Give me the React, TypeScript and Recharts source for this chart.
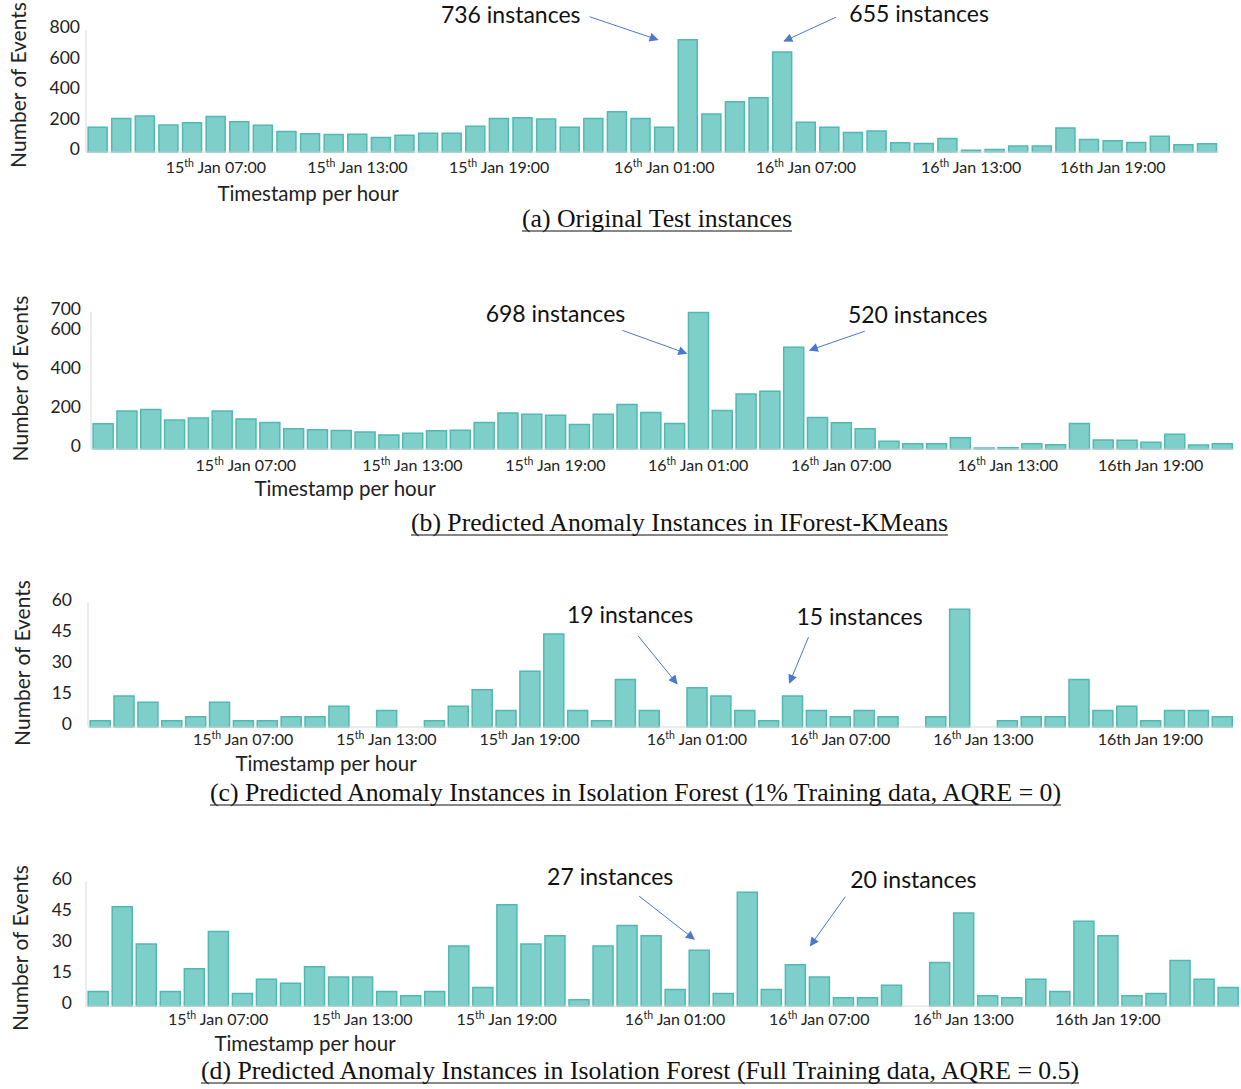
import React from 'react';
import { BarChart, Bar, XAxis, YAxis, LabelList } from 'recharts';

// 48 hourly buckets, 15th Jan 00:00 .. 16th Jan 23:00
const HOURS = [
    '15 00:00', '15 01:00', '15 02:00', '15 03:00', '15 04:00', '15 05:00', '15 06:00', '15 07:00',
    '15 08:00', '15 09:00', '15 10:00', '15 11:00', '15 12:00', '15 13:00', '15 14:00', '15 15:00',
    '15 16:00', '15 17:00', '15 18:00', '15 19:00', '15 20:00', '15 21:00', '15 22:00', '15 23:00',
    '16 00:00', '16 01:00', '16 02:00', '16 03:00', '16 04:00', '16 05:00', '16 06:00', '16 07:00',
    '16 08:00', '16 09:00', '16 10:00', '16 11:00', '16 12:00', '16 13:00', '16 14:00', '16 15:00',
    '16 16:00', '16 17:00', '16 18:00', '16 19:00', '16 20:00', '16 21:00', '16 22:00', '16 23:00',
];

const ORIGINAL = [162, 220, 236, 177, 192, 233, 199, 175, 134, 119, 115, 117, 95, 110, 123, 123,
    169, 220, 225, 216, 162, 220, 264, 220, 162, 736, 249, 329, 355, 655, 195, 162,
    128, 138, 60, 56, 89, 11, 17, 39, 39, 158, 82, 73, 63, 104, 48, 54];

const IFOREST_KMEANS = [129, 194, 202, 148, 158, 194, 153, 136, 103, 98, 94, 87, 72, 81, 93, 96,
    136, 184, 178, 172, 125, 177, 228, 187, 130, 698, 197, 281, 295, 520, 161, 134,
    103, 39, 27, 27, 57, 5, 7, 27, 22, 130, 46, 45, 34, 75, 21, 27];

const IFOREST_1PCT = [3, 15, 12, 3, 5, 12, 3, 3, 5, 5, 10, 0, 8, 0, 3, 10,
    18, 8, 27, 45, 8, 3, 23, 8, 0, 19, 15, 8, 3, 15, 8, 5,
    8, 5, 0, 5, 57, 0, 3, 5, 5, 23, 8, 10, 3, 8, 8, 5];

const IFOREST_FULL = [7, 48, 30, 7, 18, 36, 6, 13, 11, 19, 14, 14, 7, 5, 7, 29,
    9, 49, 30, 34, 3, 29, 39, 34, 8, 27, 6, 55, 8, 20, 14, 4,
    4, 10, 0, 21, 45, 5, 4, 13, 7, 41, 34, 5, 6, 22, 13, 9];

const TICK_LABELS = [
    { day: '15', sup: true, time: '07:00' },
    { day: '15', sup: true, time: '13:00' },
    { day: '15', sup: true, time: '19:00' },
    { day: '16', sup: true, time: '01:00' },
    { day: '16', sup: true, time: '07:00' },
    { day: '16', sup: true, time: '13:00' },
    { day: '16', sup: false, time: '19:00' },
];

const CAPTIONS = [
    '(a) Original Test instances',
    '(b) Predicted Anomaly Instances in IForest-KMeans',
    '(c) Predicted Anomaly Instances in Isolation Forest (1% Training data, AQRE = 0)',
    '(d) Predicted Anomaly Instances in Isolation Forest (Full Training data, AQRE = 0.5)',
];

const SANS = 'Lato, "Open Sans", sans-serif';
const FILL = '#7ecfca';
const EDGE = '#4fb9b2';
const ARROW = '#4a78cc';

type Note = { idx: number; text: string; tip: [number, number]; from: [number, number]; at: [number, number] };

const panels = [
    {
        values: ORIGINAL, top: 0, height: 205, plotTop: 30, plotBottom: 152, plotLeft: 86, plotRight: 1219,
        max: 800, yTicks: [0, 200, 400, 600, 800], tickIdx: [5, 11, 17, 24, 30, 37, 43],
        yLabelX: 17, yLabelDy: -6, xLabelX: 308, xLabelDy: 42, tickGap: 6, tickDy: 13,
        caption: { x1: 522, x2: 792, y: 219 },
        notes: [
            { idx: 25, text: '736 instances', tip: [-30, 0], from: [-98, -23], at: [-177, -25] },
            { idx: 29, text: '655 instances', tip: [2, -11], from: [54, -35], at: [137, -38] },
        ],
    },
    {
        values: IFOREST_KMEANS, top: 295, height: 205, plotTop: 312, plotBottom: 449, plotLeft: 91, plotRight: 1234,
        max: 700, yTicks: [0, 200, 400, 600, 700], tickIdx: [6, 13, 19, 25, 31, 38, 44],
        yLabelX: 19, yLabelDy: -2, xLabelX: 345, xLabelDy: 40, tickGap: 10, tickDy: 14,
        caption: { x1: 411, x2: 948, y: 523 },
        notes: [
            { idx: 25, text: '698 instances', tip: [-12, 41], from: [-76, 18], at: [-143, 2] },
            { idx: 29, text: '520 instances', tip: [16, 3], from: [71, -16], at: [124, -32] },
        ],
    },
    {
        values: IFOREST_1PCT, top: 575, height: 200, plotTop: 603, plotBottom: 727, plotLeft: 88, plotRight: 1234,
        max: 60, yTicks: [0, 15, 30, 45, 60], tickIdx: [6, 12, 18, 25, 31, 37, 44],
        yLabelX: 21, yLabelDy: -2, xLabelX: 326, xLabelDy: 37, tickGap: 16, tickDy: 10,
        caption: { x1: 210, x2: 1061, y: 793 },
        notes: [
            { idx: 25, text: '19 instances', tip: [-20, -4], from: [-59, -52], at: [-67, -73] },
            { idx: 29, text: '15 instances', tip: [-3, -13], from: [16, -59], at: [67, -79] },
        ],
    },
    {
        values: IFOREST_FULL, top: 855, height: 200, plotTop: 882, plotBottom: 1006, plotLeft: 86, plotRight: 1240,
        max: 60, yTicks: [0, 15, 30, 45, 60], tickIdx: [5, 11, 17, 24, 30, 36, 42],
        yLabelX: 19, yLabelDy: 4, xLabelX: 305, xLabelDy: 38, tickGap: 14, tickDy: 11,
        caption: { x1: 201, x2: 1079, y: 1071 },
        notes: [
            { idx: 25, text: '27 instances', tip: [-5, -11], from: [-60, -54], at: [-89, -73] },
            { idx: 29, text: '20 instances', tip: [15, -19], from: [50, -68], at: [118, -85] },
        ],
    },
];

const XTick = ({ x, y, payload, tickIdx, tickDy }: any) => {
    const pos = tickIdx.indexOf(HOURS.indexOf(payload.value));
    const t = TICK_LABELS[pos];
    if (!t) return null;
    return (
        <text x={x} y={y} dy={tickDy} textAnchor="middle" fontFamily={SANS} fontSize={16} fill="#222">
            {t.day}
            {t.sup ? <tspan dy={-6} fontSize={10.5}>th</tspan> : <tspan>th</tspan>}
            <tspan dy={t.sup ? 6 : 0}>{` Jan ${t.time}`}</tspan>
        </text>
    );
};

const YTick = ({ x, y, payload }: any) => (
    <text x={x} y={y} dy={3} textAnchor="end" fontFamily={SANS} fontSize={17.5} fill="#222">
        {payload.value}
    </text>
);

const Panel = ({ p, id }: { p: typeof panels[number]; id: number }) => {
    const notes: Note[] = p.notes as Note[];
    // note column holds the position of the annotation in `notes` for the annotated hours
    const rows = HOURS.map((h, i) => {
        const n = notes.findIndex((nt) => nt.idx === i);
        return { hour: h, v: p.values[i], note: n >= 0 ? n : undefined };
    });
    const marker = `arrow-${id}`;

    const renderNote = (props: any) => {
        if (props.value === undefined || props.value === null) return null;
        const note = notes[props.value];
        if (!note) return null;
        const cx = props.x + props.width / 2;
        const cy = props.y;
        return (
            <g key={`note-${props.value}`}>
                <line
                    x1={cx + note.from[0]} y1={cy + note.from[1]}
                    x2={cx + note.tip[0]} y2={cy + note.tip[1]}
                    stroke={ARROW} strokeWidth={1} markerEnd={`url(#${marker})`}
                />
                <text x={cx + note.at[0]} y={cy + note.at[1]} dy={8} textAnchor="middle" fontFamily={SANS} fontSize={23} fill="#111">
                    {note.text}
                </text>
            </g>
        );
    };

    const chartH = p.height;
    const xAxisH = 50;
    const margin = {
        top: p.plotTop - p.top,
        right: 1241 - p.plotRight,
        left: 0,
        bottom: chartH - (p.plotBottom - p.top) - xAxisH,
    };

    return (
        <div style={{ position: 'absolute', left: 0, top: p.top }}>
            <BarChart width={1241} height={chartH} data={rows} margin={margin} barCategoryGap="9%">
                <defs>
                    <marker id={marker} viewBox="0 0 10 10" refX={9} refY={5} markerWidth={11} markerHeight={9}
                        markerUnits="userSpaceOnUse" orient="auto">
                        <path d="M0,0 L10,5 L0,10 z" fill={ARROW} />
                    </marker>
                </defs>
                <YAxis
                    width={p.plotLeft}
                    domain={[0, p.max]}
                    ticks={p.yTicks}
                    interval={0}
                    tickLine={false}
                    axisLine={{ stroke: '#d9d9d9' }}
                    tickMargin={p.tickGap - 6}
                    tick={<YTick />}
                    label={(lp: any) => {
                        const vb = lp.viewBox;
                        const cy = vb.y + vb.height / 2 + p.yLabelDy;
                        return (
                            <text transform={`translate(${p.yLabelX}, ${cy}) rotate(-90)`} textAnchor="middle"
                                dominantBaseline="central" fontFamily={SANS} fontSize={21} fill="#222">
                                Number of Events
                            </text>
                        );
                    }}
                />
                <XAxis
                    dataKey="hour"
                    height={xAxisH}
                    ticks={p.tickIdx.map((i) => HOURS[i])}
                    interval={0}
                    tickLine={false}
                    axisLine={{ stroke: '#d9d9d9' }}
                    tick={<XTick tickIdx={p.tickIdx} tickDy={p.tickDy} />}
                    label={() => (
                        <text x={p.xLabelX} y={p.plotBottom - p.top + p.xLabelDy} dy={7} textAnchor="middle"
                            fontFamily={SANS} fontSize={20.5} fill="#222">
                            Timestamp per hour
                        </text>
                    )}
                />
                <Bar dataKey="v" fill={FILL} stroke={EDGE} strokeWidth={1.5} isAnimationActive={false}>
                    <LabelList dataKey="note" content={renderNote} />
                </Bar>
            </BarChart>
        </div>
    );
};

export default function App() {
    return (
        <div style={{ position: 'absolute', left: 0, top: 0, width: 1241, height: 1089, background: '#fff', overflow: 'hidden' }}>
            {panels.map((p, i) => (
                <Panel key={i} p={p} id={i} />
            ))}
            <svg width={1241} height={1089} style={{ position: 'absolute', left: 0, top: 0, pointerEvents: 'none' }}>
                {panels.map((p, i) => (
                    <g key={i}>
                        <text x={p.caption.x1} y={p.caption.y + 8} textLength={p.caption.x2 - p.caption.x1}
                            lengthAdjust="spacingAndGlyphs" fontFamily='"Liberation Serif", "Times New Roman", serif'
                            fontSize={25} fill="#111">
                            {CAPTIONS[i]}
                        </text>
                        <line x1={p.caption.x1} x2={p.caption.x2} y1={p.caption.y + 12} y2={p.caption.y + 12}
                            stroke="#111" strokeWidth={1.2} />
                    </g>
                ))}
            </svg>
        </div>
    );
}
